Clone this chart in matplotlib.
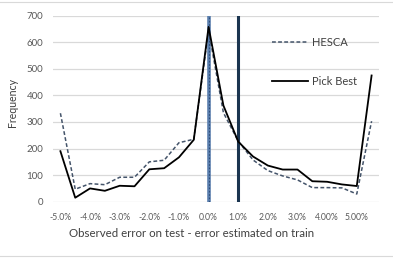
import matplotlib
matplotlib.use("Agg")
import matplotlib.pyplot as plt
import numpy as np

plt.rcParams['font.family'] = ['Lato', 'DejaVu Sans']

categories = ["-5.0%", "-4.5%", "-4.0%", "-3.5%", "-3.0%", "-2.5%", "-2.0%", "-1.5%",
              "-1.0%", "-0.5%", "0.0%", "0.5%", "1.0%", "1.5%", "2.0%", "2.5%",
              "3.0%", "3.5%", "4.00%", "4.50%", "5.00%", "5.50%"]
hesca = [333, 47, 68, 64, 92, 92, 150, 156, 222, 235, 645, 335, 228, 157, 117, 97,
         82, 53, 53, 52, 29, 303]
pick_best = [190, 15, 50, 41, 60, 58, 122, 126, 167, 233, 658, 362, 226, 170, 136, 121,
             121, 77, 75, 65, 59, 475]
vline_cats = ["0.0%", "1.0%"]
yticks = [0, 100, 200, 300, 400, 500, 600, 700]

fig = plt.figure(figsize=(3.93, 2.6), dpi=100)
ax = fig.add_axes([53/393, 1-201.7/260, (379-53)/393, (201.7-15.7)/260])

x = np.arange(len(categories))
ax.set_xlim(-0.5, len(categories) - 0.5)
ax.set_ylim(0, 700)

for v in yticks:
    ax.axhline(v, color="#D9D9D9", lw=0.9, zorder=0)

ax.plot(x, hesca, color="#44546A", lw=1.1, ls=(0, (2.5, 1.5)), label="HESCA", zorder=3)
ax.plot(x, pick_best, color="black", lw=1.3, label="Pick Best", zorder=3)

xv0 = categories.index(vline_cats[0])
xv1 = categories.index(vline_cats[1])
ax.axvline(xv0, color="#5B7FAE", lw=2.6, zorder=2)
ax.axvline(xv0, color="#2E4E7A", lw=0.8, ls=(0, (1.5, 1.5)), zorder=2)
ax.axvline(xv1, color="#1B3550", lw=2.2, zorder=2)

ax.set_xticks(x[::2])
ax.set_xticklabels(categories[::2])
ax.set_yticks(yticks)
ax.tick_params(axis="x", length=0, labelsize=6.2, labelcolor="#595959", pad=8)
ax.tick_params(axis="y", length=0, labelsize=7, labelcolor="#595959", pad=7)
for s in ax.spines.values():
    s.set_visible(False)

ax.set_ylabel("Frequency", fontsize=7.6, color="#404040")
ax.yaxis.set_label_coords(-0.107, 0.533)
ax.set_xlabel("Observed error on test - error estimated on train", fontsize=8.3,
              color="#404040")
ax.xaxis.set_label_coords(0.426, -0.14)

leg = ax.legend(loc="upper left", bbox_to_anchor=(0.64, 0.94), frameon=False,
                fontsize=8, labelspacing=2.5, handlelength=3.3, handletextpad=0.3)
for t in leg.get_texts():
    t.set_color("#404040")

fig.add_artist(plt.Line2D([0, 1], [1-2/260, 1-2/260], color="#D9D9D9", lw=0.8,
                          transform=fig.transFigure))
fig.add_artist(plt.Line2D([0, 1], [1-256/260, 1-256/260], color="#D9D9D9", lw=0.8,
                          transform=fig.transFigure))

fig.savefig("out.png", dpi=100)
